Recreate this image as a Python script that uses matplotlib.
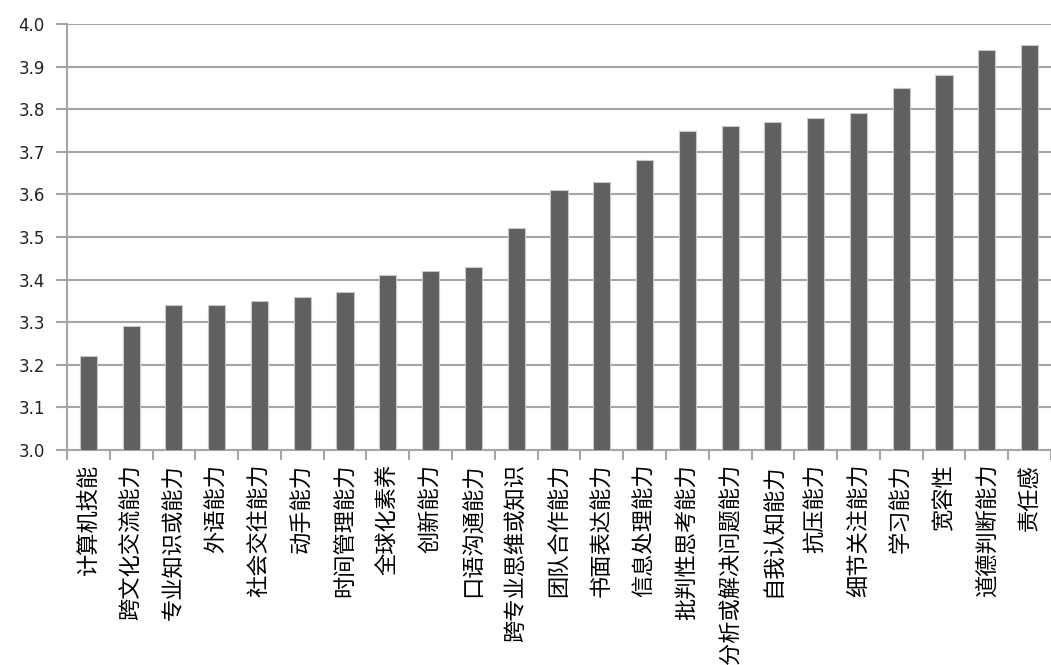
import numpy as np
import matplotlib.pyplot as plt

plt.rcParams['font.family'] = ['Noto Sans CJK SC', 'DejaVu Sans']

skills = ["计算机技能", "跨文化交流能力", "专业知识或能力", "外语能力", "社会交往能力",
          "动手能力", "时间管理能力", "全球化素养", "创新能力", "口语沟通能力",
          "跨专业思维或知识", "团队合作能力", "书面表达能力", "信息处理能力",
          "批判性思考能力", "分析或解决问题能力", "自我认知能力", "抗压能力",
          "细节关注能力", "学习能力", "宽容性", "道德判断能力", "责任感"]
scores = [3.22, 3.29, 3.34, 3.34, 3.35, 3.36, 3.37, 3.41, 3.42, 3.43, 3.52,
          3.61, 3.63, 3.68, 3.75, 3.76, 3.77, 3.78, 3.79, 3.85, 3.88, 3.94, 3.95]

grid_color = "#a6a6a6"

fig = plt.figure(figsize=(10.51, 6.65), dpi=100)
ax = fig.add_axes([0.0637, 0.3233, 0.9363, 0.6406])

x = np.arange(len(skills))
ax.bar(x, scores, width=0.4, bottom=0, color="#606060", edgecolor="#c8c8c8",
       linewidth=0.8, zorder=3)

ax.set_ylim(3.0, 4.0)
ax.set_xlim(-0.5, len(skills) - 0.5)
ax.set_yticks(np.arange(3.0, 4.01, 0.1))
ax.set_yticklabels([f"{v:.1f}" for v in np.arange(3.0, 4.01, 0.1)],
                   family="DejaVu Sans", fontsize=12, color="#222222")
ax.yaxis.grid(True, color=grid_color, linewidth=1.5, zorder=0)

ax.set_xticks(x)
ax.set_xticklabels(skills, rotation=90, fontsize=16, va="top")
ax.set_xticks(np.arange(-0.5, len(skills), 1.0), minor=True)
ax.tick_params(axis="x", which="major", length=0, pad=10)
ax.tick_params(axis="x", which="minor", length=7, width=1.5, color=grid_color)
ax.tick_params(axis="y", length=8, width=1.5, color=grid_color, pad=8)

for side in ["top", "right"]:
    ax.spines[side].set_visible(False)
for side in ["left", "bottom"]:
    ax.spines[side].set_color(grid_color)
    ax.spines[side].set_linewidth(1.5)

fig.savefig("out.png", dpi=100)
